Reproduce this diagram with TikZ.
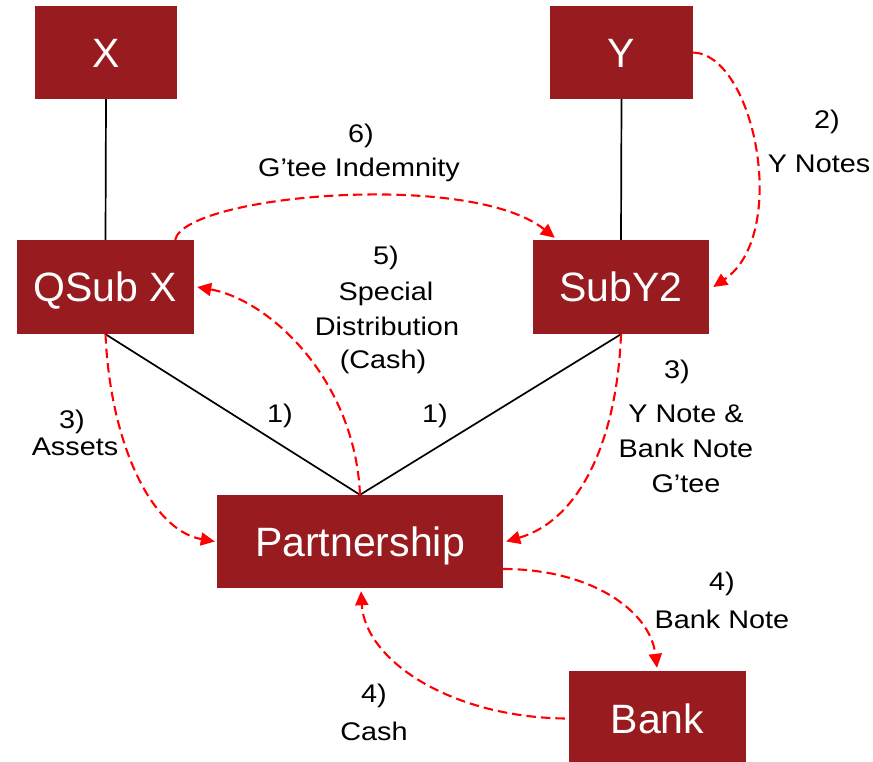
\documentclass[tikz,border=0pt]{standalone}
\usepackage{fontspec}
\setmainfont{Liberation Sans}
\newfontfamily\labelfont[FakeStretch=1.13]{Liberation Sans}
\usetikzlibrary{arrows.meta}
\definecolor{boxred}{RGB}{152,27,31}
\definecolor{flowred}{RGB}{255,0,0}
\tikzset{
  entity/.style={fill=boxred, draw=none, inner sep=0pt, text=white,
    font=\fontsize{41}{41}\selectfont, text height=29.5pt, text depth=0pt,
    minimum height=93pt},
  owns/.style={draw=black, line width=1.7pt},
  flow/.style={draw=flowred, line width=2.1pt, dash pattern=on 9.5pt off 5pt,
    -{Triangle[length=14pt,width=13pt]}},
  lbl/.style={font=\labelfont\fontsize{25.5}{25.5}\selectfont, inner sep=0pt, anchor=base}
}
\begin{document}
\begin{tikzpicture}[x=1pt, y=-1pt]
\useasboundingbox (0,0) rectangle (873,762);

% entities
\node[entity, minimum width=142pt] (X) at (106,52.5) {X};
\node[entity, minimum width=143pt] (Y) at (621.5,52.5) {Y};
\node[entity, minimum width=177pt, minimum height=94pt] (QSub) at (105.5,287) {QSub X};
\node[entity, minimum width=176pt, minimum height=94pt] (SubY) at (621,287) {SubY2};
\node[entity, minimum width=286pt] (P) at (360,541.5) {Partnership};
\node[entity, minimum width=177pt, minimum height=95pt] (Bank) at (657.5,718.5) {Bank};

% ownership lines
\draw[owns] (X.south) -- (QSub.north);
\draw[owns] (Y.south) -- (SubY.north);
\draw[owns] (QSub.south) -- (P.north);
\draw[owns] (SubY.south) -- (P.north);

% flows
\draw[flow] (Y.east) .. controls (755,55) and (790,235) .. ([xshift=4pt]SubY.east);
\draw[flow] ([xshift=-19pt]QSub.north east) .. controls (185,195) and (470,170) .. ([xshift=22pt,yshift=2pt]SubY.north west);
\draw[flow] (P.north) .. controls (355,380) and (270,300) .. ([xshift=3pt]QSub.east);
\draw[flow] (QSub.south) .. controls (110,440) and (150,530) .. ([xshift=-2pt]P.west);
\draw[flow] (SubY.south) .. controls (617,440) and (580,520) .. ([xshift=3pt]P.east);
\draw[flow] ([yshift=-27.5pt]P.east) .. controls (590,569) and (650,610) .. ([xshift=-0.5pt,yshift=3pt]Bank.north);
\draw[flow] ([xshift=-4pt]Bank.west) .. controls (450,717) and (365,660) .. ([xshift=1pt,yshift=-3pt]P.south);

% labels
\node[lbl] (l6a) at (361,143) {6)};
\node[lbl] (l6b) at (359,177) {G’tee Indemnity};
\node[lbl] (l2a) at (827,129) {2)};
\node[lbl] (l2b) at (819,173) {Y Notes};
\node[lbl] (l5a) at (386,265) {5)};
\node[lbl] (l5b) at (386,300) {Special};
\node[lbl] (l5c) at (387,335) {Distribution};
\node[lbl] (l5d) at (383,368) {(Cash)};
\node[lbl] (l1a) at (280,422) {1)};
\node[lbl] (l1b) at (435,422) {1)};
\node[lbl] (l3a) at (72,428) {3)};
\node[lbl] (l3b) at (75,455) {Assets};
\node[lbl] (l3c) at (677,378) {3)};
\node[lbl] (l3d) at (686,422) {Y Note \&};
\node[lbl] (l3e) at (686,457) {Bank Note};
\node[lbl] (l3f) at (686,492) {G’tee};
\node[lbl] (l4a) at (722,590) {4)};
\node[lbl] (l4b) at (722,628) {Bank Note};
\node[lbl] (l4c) at (374,702) {4)};
\node[lbl] (l4d) at (374,740) {Cash};
\end{tikzpicture}
\end{document}
